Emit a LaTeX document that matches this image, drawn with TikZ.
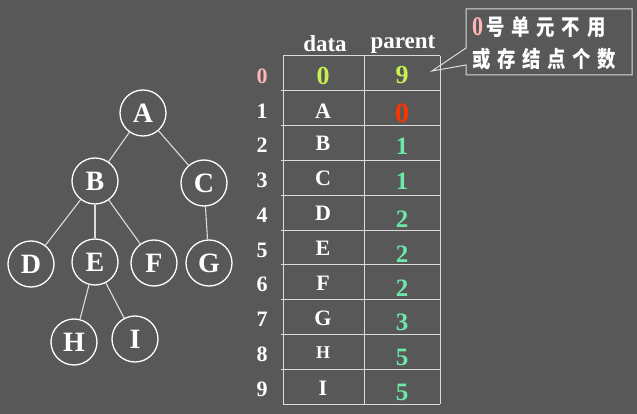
\documentclass[tikz,border=0pt]{standalone}
\usepackage{fontspec}
\setmainfont{Liberation Serif}
\newfontfamily\cjkf[LetterSpace=36]{Noto Sans CJK SC}
\definecolor{bgc}{HTML}{585858}
\definecolor{linec}{HTML}{DCDCDC}
\definecolor{ygreen}{HTML}{C8F050}
\definecolor{redc}{HTML}{FF3300}
\definecolor{tealc}{HTML}{6CE8A8}
\definecolor{pinkc}{HTML}{FFB6B6}
\tikzset{
  tnode/.style={circle,draw=white,line width=1.3pt,minimum size=46pt,inner sep=0pt,text=white,font=\fontsize{28}{28}\selectfont\bfseries},
  tedge/.style={draw=linec,line width=1.1pt},
  tabline/.style={draw=linec,line width=1pt},
  idx/.style={text=white,font=\fontsize{22}{22}\selectfont\bfseries,inner sep=0pt},
  datac/.style={text=white,font=\fontsize{22}{22}\selectfont\bfseries,inner sep=0pt},
  parc/.style={text=tealc,font=\fontsize{25}{25}\selectfont\bfseries,inner sep=0pt},
  hdr/.style={text=white,font=\fontsize{23}{23}\selectfont\bfseries,inner sep=0pt},
  cjkline/.style={text=white,font=\fontsize{20}{20}\selectfont\cjkf\bfseries,inner sep=0pt,anchor=west}
}
\begin{document}
\begin{tikzpicture}[x=1pt,y=-1pt]
\fill[bgc] (0,0) rectangle (637,414);
\useasboundingbox (0,0) rectangle (637,414);
% tree
\node[tnode] (A) at (143,113) {A};
\node[tnode] (B) at (95,181) {B};
\node[tnode] (C) at (204,183) {C};
\node[tnode] (D) at (31,264) {D};
\node[tnode] (E) at (95,262) {E};
\node[tnode] (F) at (154,263) {F};
\node[tnode] (G) at (209,263) {G};
\node[tnode] (H) at (74,342) {H};
\node[tnode] (I) at (135,339) {I};
\draw[tedge] (A) -- (B);
\draw[tedge] (A) -- (C);
\draw[tedge] (B) -- (D);
\draw[tedge] (B) -- (E);
\draw[tedge] (B) -- (F);
\draw[tedge] (C) -- (G);
\draw[tedge] (E) -- (H);
\draw[tedge] (E) -- (I);
% table
\draw[tabline] (283,56) -- (440,56);
\foreach \k in {1,...,9} {\draw[tabline] (281,56+34.8*\k) -- (440,56+34.8*\k);}
\draw[tabline] (283,404) -- (440,404);
\draw[tabline] (283,56) -- (283,404);
\draw[tabline] (364,56) -- (364,404);
\draw[tabline] (440,56) -- (440,404);
\node[hdr] (hd) at (325,44) {data};
\node[hdr] (hp) at (403,44) {parent};
% index column
\node[idx,text=pinkc] (i0) at (262,76) {0};
\foreach \i in {1,...,9} {\node[idx] (i\i) at (262,76+34.8*\i) {\i};}
% data column
\node[datac,text=ygreen,font=\fontsize{26}{26}\selectfont\bfseries] (d0) at (323,76) {0};
\node[datac] (d1) at (323,110.8) {A};
\node[datac] (d2) at (323,143.6) {B};
\node[datac] (d3) at (323,178.4) {C};
\node[datac] (d4) at (323,213.2) {D};
\node[datac] (d5) at (323,248) {E};
\node[datac] (d6) at (323,283) {F};
\node[datac] (d7) at (323,318) {G};
\node[datac,font=\fontsize{18}{18}\selectfont\bfseries] (d8) at (323,353) {H};
\node[datac] (d9) at (323,388) {I};
% parent column
\node[parc,text=ygreen,font=\fontsize{26}{26}\selectfont\bfseries] (p0) at (402,75) {9};
\node[parc,text=redc,font=\fontsize{28}{28}\selectfont\bfseries] (p1) at (402,113) {0};
\node[parc] (p2) at (402,146) {1};
\node[parc] (p3) at (402,181) {1};
\node[parc] (p4) at (402,219) {2};
\node[parc] (p5) at (402,254) {2};
\node[parc] (p6) at (402,288) {2};
\node[parc] (p7) at (402,322) {3};
\node[parc] (p8) at (402,357) {5};
\node[parc] (p9) at (402,392) {5};
% callout
\draw[tabline] (466,65) -- (466,75) -- (632,75) -- (632,9) -- (466,9) -- (466,48) -- (432,71) -- cycle;
\node[cjkline] (c1) at (472,27) {\scalebox{0.92}[1.12]{\textcolor{pinkc}{\fontspec{Liberation Serif}\bfseries\fontsize{24}{24}\selectfont 0}\hspace{4pt}号单元不用}};
\node[cjkline] (c2) at (472,59) {\scalebox{0.92}[1.12]{或存结点个数}};
\end{tikzpicture}
\end{document}
